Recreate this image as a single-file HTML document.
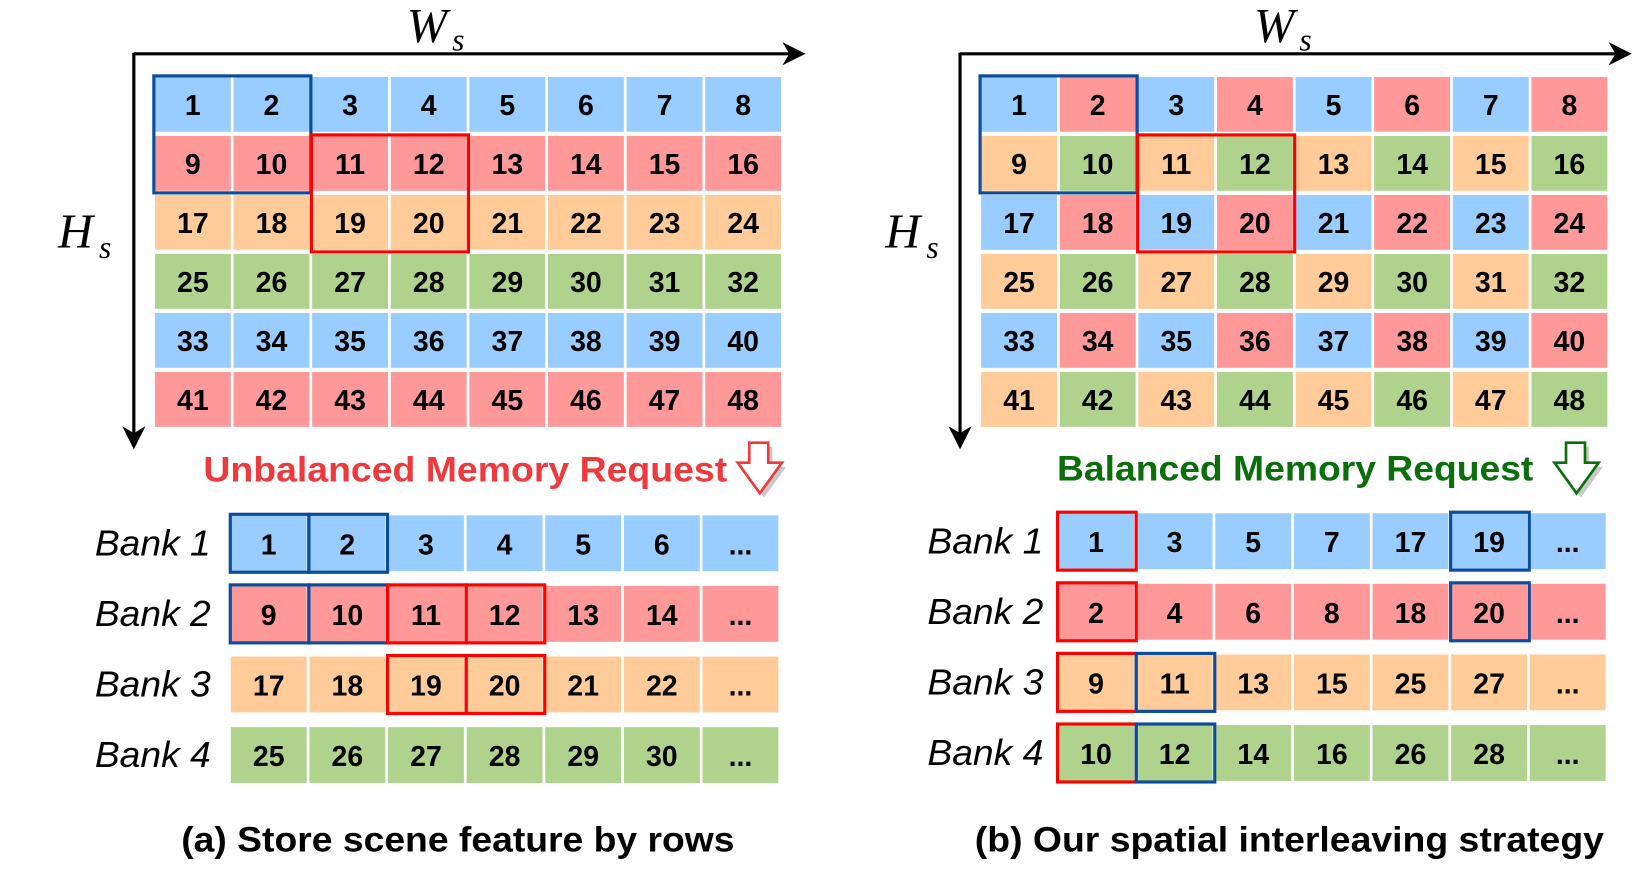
<!DOCTYPE html>
<html><head><meta charset="utf-8"><style>
html,body{margin:0;padding:0;background:#fff;}
svg{display:block}
.b{fill:#99CCFF}.r{fill:#FF9999}.o{fill:#FFCC99}.g{fill:#AFD38C}
.n{font-family:"Liberation Sans",sans-serif;font-weight:bold;font-size:27px;text-anchor:middle;fill:#000}
.bk{font-family:"Liberation Sans",sans-serif;font-style:italic;font-size:34px;fill:#000}
.ax{font-family:"Liberation Serif",serif;font-style:italic;fill:#000}
.cap{font-family:"Liberation Sans",sans-serif;font-weight:bold;font-size:33px;fill:#000}
.bx{fill:none;stroke:#0B4C9C;stroke-width:3}
.rx{fill:none;stroke:#FF0000;stroke-width:3}
</style></head><body>
<svg width="1644" height="874" viewBox="0 0 1560 829.3" xmlns="http://www.w3.org/2000/svg">
<defs>
<marker id="ah2" viewBox="0 0 10 10" markerWidth="22" markerHeight="22" refX="8" refY="5" orient="auto" markerUnits="userSpaceOnUse"><path d="M0,0 L10,5 L0,10 L3,5 z" fill="#000"/></marker></defs>

<!-- LEFT PANEL -->
<text class="ax" x="386" y="40" font-size="46">W</text><text class="ax" x="429" y="48" font-size="30">s</text>
<line x1="127" y1="51" x2="760" y2="51" stroke="#000" stroke-width="3" marker-end="url(#ah2)"/>
<line x1="127" y1="50" x2="127" y2="422" stroke="#000" stroke-width="3" marker-end="url(#ah2)"/>
<text class="ax" x="55" y="235" font-size="46">H</text><text class="ax" x="94" y="245" font-size="30">s</text>

<g>
<rect class="b" x="147" y="73" width="72" height="52"/><rect class="b" x="221.6" y="73" width="72" height="52"/><rect class="b" x="296.2" y="73" width="72" height="52"/><rect class="b" x="370.8" y="73" width="72" height="52"/><rect class="b" x="445.4" y="73" width="72" height="52"/><rect class="b" x="520" y="73" width="72" height="52"/><rect class="b" x="594.6" y="73" width="72" height="52"/><rect class="b" x="669.2" y="73" width="72" height="52"/>
<rect class="r" x="147" y="129" width="72" height="52"/><rect class="r" x="221.6" y="129" width="72" height="52"/><rect class="r" x="296.2" y="129" width="72" height="52"/><rect class="r" x="370.8" y="129" width="72" height="52"/><rect class="r" x="445.4" y="129" width="72" height="52"/><rect class="r" x="520" y="129" width="72" height="52"/><rect class="r" x="594.6" y="129" width="72" height="52"/><rect class="r" x="669.2" y="129" width="72" height="52"/>
<rect class="o" x="147" y="185" width="72" height="52"/><rect class="o" x="221.6" y="185" width="72" height="52"/><rect class="o" x="296.2" y="185" width="72" height="52"/><rect class="o" x="370.8" y="185" width="72" height="52"/><rect class="o" x="445.4" y="185" width="72" height="52"/><rect class="o" x="520" y="185" width="72" height="52"/><rect class="o" x="594.6" y="185" width="72" height="52"/><rect class="o" x="669.2" y="185" width="72" height="52"/>
<rect class="g" x="147" y="241" width="72" height="52"/><rect class="g" x="221.6" y="241" width="72" height="52"/><rect class="g" x="296.2" y="241" width="72" height="52"/><rect class="g" x="370.8" y="241" width="72" height="52"/><rect class="g" x="445.4" y="241" width="72" height="52"/><rect class="g" x="520" y="241" width="72" height="52"/><rect class="g" x="594.6" y="241" width="72" height="52"/><rect class="g" x="669.2" y="241" width="72" height="52"/>
<rect class="b" x="147" y="297" width="72" height="52"/><rect class="b" x="221.6" y="297" width="72" height="52"/><rect class="b" x="296.2" y="297" width="72" height="52"/><rect class="b" x="370.8" y="297" width="72" height="52"/><rect class="b" x="445.4" y="297" width="72" height="52"/><rect class="b" x="520" y="297" width="72" height="52"/><rect class="b" x="594.6" y="297" width="72" height="52"/><rect class="b" x="669.2" y="297" width="72" height="52"/>
<rect class="r" x="147" y="353" width="72" height="52"/><rect class="r" x="221.6" y="353" width="72" height="52"/><rect class="r" x="296.2" y="353" width="72" height="52"/><rect class="r" x="370.8" y="353" width="72" height="52"/><rect class="r" x="445.4" y="353" width="72" height="52"/><rect class="r" x="520" y="353" width="72" height="52"/><rect class="r" x="594.6" y="353" width="72" height="52"/><rect class="r" x="669.2" y="353" width="72" height="52"/>
</g>
<g class="n">
<text x="183" y="109">1</text><text x="257.6" y="109">2</text><text x="332.2" y="109">3</text><text x="406.8" y="109">4</text><text x="481.4" y="109">5</text><text x="556" y="109">6</text><text x="630.6" y="109">7</text><text x="705.2" y="109">8</text>
<text x="183" y="165">9</text><text x="257.6" y="165">10</text><text x="332.2" y="165">11</text><text x="406.8" y="165">12</text><text x="481.4" y="165">13</text><text x="556" y="165">14</text><text x="630.6" y="165">15</text><text x="705.2" y="165">16</text>
<text x="183" y="221">17</text><text x="257.6" y="221">18</text><text x="332.2" y="221">19</text><text x="406.8" y="221">20</text><text x="481.4" y="221">21</text><text x="556" y="221">22</text><text x="630.6" y="221">23</text><text x="705.2" y="221">24</text>
<text x="183" y="277">25</text><text x="257.6" y="277">26</text><text x="332.2" y="277">27</text><text x="406.8" y="277">28</text><text x="481.4" y="277">29</text><text x="556" y="277">30</text><text x="630.6" y="277">31</text><text x="705.2" y="277">32</text>
<text x="183" y="333">33</text><text x="257.6" y="333">34</text><text x="332.2" y="333">35</text><text x="406.8" y="333">36</text><text x="481.4" y="333">37</text><text x="556" y="333">38</text><text x="630.6" y="333">39</text><text x="705.2" y="333">40</text>
<text x="183" y="389">41</text><text x="257.6" y="389">42</text><text x="332.2" y="389">43</text><text x="406.8" y="389">44</text><text x="481.4" y="389">45</text><text x="556" y="389">46</text><text x="630.6" y="389">47</text><text x="705.2" y="389">48</text>
</g>
<rect class="bx" x="146" y="72" width="149" height="111"/>
<rect class="rx" x="295.5" y="128" width="149" height="111"/>

<text x="193" y="457" font-family="Liberation Sans, sans-serif" font-weight="bold" font-size="33" fill="#F0393C" textLength="497" lengthAdjust="spacingAndGlyphs">Unbalanced Memory Request</text>
<polygon points="715,424 733,424 733,443 746,443 725,472 704,443 715,443" fill="#c8c8c8"/>
<polygon points="711,420 729,420 729,439 742,439 721,468 700,439 711,439" fill="#fff" stroke="#F0393C" stroke-width="2.5"/>

<g class="bk"><text x="90" y="527" textLength="110" lengthAdjust="spacingAndGlyphs">Bank 1</text><text x="90" y="594" textLength="110" lengthAdjust="spacingAndGlyphs">Bank 2</text><text x="90" y="661" textLength="110" lengthAdjust="spacingAndGlyphs">Bank 3</text><text x="90" y="728" textLength="110" lengthAdjust="spacingAndGlyphs">Bank 4</text></g>
<g>
<rect class="b" x="219" y="489" width="72" height="53"/><rect class="b" x="293.6" y="489" width="72" height="53"/><rect class="b" x="368.2" y="489" width="72" height="53"/><rect class="b" x="442.8" y="489" width="72" height="53"/><rect class="b" x="517.4" y="489" width="72" height="53"/><rect class="b" x="592" y="489" width="72" height="53"/><rect class="b" x="666.6" y="489" width="72" height="53"/>
<rect class="r" x="219" y="556" width="72" height="53"/><rect class="r" x="293.6" y="556" width="72" height="53"/><rect class="r" x="368.2" y="556" width="72" height="53"/><rect class="r" x="442.8" y="556" width="72" height="53"/><rect class="r" x="517.4" y="556" width="72" height="53"/><rect class="r" x="592" y="556" width="72" height="53"/><rect class="r" x="666.6" y="556" width="72" height="53"/>
<rect class="o" x="219" y="623" width="72" height="53"/><rect class="o" x="293.6" y="623" width="72" height="53"/><rect class="o" x="368.2" y="623" width="72" height="53"/><rect class="o" x="442.8" y="623" width="72" height="53"/><rect class="o" x="517.4" y="623" width="72" height="53"/><rect class="o" x="592" y="623" width="72" height="53"/><rect class="o" x="666.6" y="623" width="72" height="53"/>
<rect class="g" x="219" y="690" width="72" height="53"/><rect class="g" x="293.6" y="690" width="72" height="53"/><rect class="g" x="368.2" y="690" width="72" height="53"/><rect class="g" x="442.8" y="690" width="72" height="53"/><rect class="g" x="517.4" y="690" width="72" height="53"/><rect class="g" x="592" y="690" width="72" height="53"/><rect class="g" x="666.6" y="690" width="72" height="53"/>
</g>
<g class="n">
<text x="255" y="526">1</text><text x="329.6" y="526">2</text><text x="404.2" y="526">3</text><text x="478.8" y="526">4</text><text x="553.4" y="526">5</text><text x="628" y="526">6</text><text x="702.6" y="526">...</text>
<text x="255" y="593">9</text><text x="329.6" y="593">10</text><text x="404.2" y="593">11</text><text x="478.8" y="593">12</text><text x="553.4" y="593">13</text><text x="628" y="593">14</text><text x="702.6" y="593">...</text>
<text x="255" y="660">17</text><text x="329.6" y="660">18</text><text x="404.2" y="660">19</text><text x="478.8" y="660">20</text><text x="553.4" y="660">21</text><text x="628" y="660">22</text><text x="702.6" y="660">...</text>
<text x="255" y="727">25</text><text x="329.6" y="727">26</text><text x="404.2" y="727">27</text><text x="478.8" y="727">28</text><text x="553.4" y="727">29</text><text x="628" y="727">30</text><text x="702.6" y="727">...</text>
</g>
<rect class="bx" x="218.5" y="488" width="74.6" height="55"/><rect class="bx" x="293.1" y="488" width="74.6" height="55"/>
<rect class="bx" x="218.5" y="555" width="74.6" height="55"/><rect class="bx" x="293.1" y="555" width="74.6" height="55"/>
<rect class="rx" x="367.7" y="555" width="74.6" height="55"/><rect class="rx" x="442.3" y="555" width="74.6" height="55"/>
<rect class="rx" x="367.7" y="622" width="74.6" height="55"/><rect class="rx" x="442.3" y="622" width="74.6" height="55"/>

<text class="cap" x="172" y="808" textLength="525" lengthAdjust="spacingAndGlyphs">(a) Store scene feature by rows</text>

<!-- RIGHT PANEL -->
<text class="ax" x="1190" y="40" font-size="46">W</text><text class="ax" x="1233" y="48" font-size="30">s</text>
<line x1="911" y1="51" x2="1544" y2="51" stroke="#000" stroke-width="3" marker-end="url(#ah2)"/>
<line x1="911" y1="50" x2="911" y2="422" stroke="#000" stroke-width="3" marker-end="url(#ah2)"/>
<text class="ax" x="840" y="235" font-size="46">H</text><text class="ax" x="879" y="245" font-size="30">s</text>

<g>
<rect class="b" x="931" y="73" width="72" height="52"/><rect class="r" x="1005.6" y="73" width="72" height="52"/><rect class="b" x="1080.2" y="73" width="72" height="52"/><rect class="r" x="1154.8" y="73" width="72" height="52"/><rect class="b" x="1229.4" y="73" width="72" height="52"/><rect class="r" x="1304" y="73" width="72" height="52"/><rect class="b" x="1378.6" y="73" width="72" height="52"/><rect class="r" x="1453.2" y="73" width="72" height="52"/>
<rect class="o" x="931" y="129" width="72" height="52"/><rect class="g" x="1005.6" y="129" width="72" height="52"/><rect class="o" x="1080.2" y="129" width="72" height="52"/><rect class="g" x="1154.8" y="129" width="72" height="52"/><rect class="o" x="1229.4" y="129" width="72" height="52"/><rect class="g" x="1304" y="129" width="72" height="52"/><rect class="o" x="1378.6" y="129" width="72" height="52"/><rect class="g" x="1453.2" y="129" width="72" height="52"/>
<rect class="b" x="931" y="185" width="72" height="52"/><rect class="r" x="1005.6" y="185" width="72" height="52"/><rect class="b" x="1080.2" y="185" width="72" height="52"/><rect class="r" x="1154.8" y="185" width="72" height="52"/><rect class="b" x="1229.4" y="185" width="72" height="52"/><rect class="r" x="1304" y="185" width="72" height="52"/><rect class="b" x="1378.6" y="185" width="72" height="52"/><rect class="r" x="1453.2" y="185" width="72" height="52"/>
<rect class="o" x="931" y="241" width="72" height="52"/><rect class="g" x="1005.6" y="241" width="72" height="52"/><rect class="o" x="1080.2" y="241" width="72" height="52"/><rect class="g" x="1154.8" y="241" width="72" height="52"/><rect class="o" x="1229.4" y="241" width="72" height="52"/><rect class="g" x="1304" y="241" width="72" height="52"/><rect class="o" x="1378.6" y="241" width="72" height="52"/><rect class="g" x="1453.2" y="241" width="72" height="52"/>
<rect class="b" x="931" y="297" width="72" height="52"/><rect class="r" x="1005.6" y="297" width="72" height="52"/><rect class="b" x="1080.2" y="297" width="72" height="52"/><rect class="r" x="1154.8" y="297" width="72" height="52"/><rect class="b" x="1229.4" y="297" width="72" height="52"/><rect class="r" x="1304" y="297" width="72" height="52"/><rect class="b" x="1378.6" y="297" width="72" height="52"/><rect class="r" x="1453.2" y="297" width="72" height="52"/>
<rect class="o" x="931" y="353" width="72" height="52"/><rect class="g" x="1005.6" y="353" width="72" height="52"/><rect class="o" x="1080.2" y="353" width="72" height="52"/><rect class="g" x="1154.8" y="353" width="72" height="52"/><rect class="o" x="1229.4" y="353" width="72" height="52"/><rect class="g" x="1304" y="353" width="72" height="52"/><rect class="o" x="1378.6" y="353" width="72" height="52"/><rect class="g" x="1453.2" y="353" width="72" height="52"/>
</g>
<g class="n">
<text x="967" y="109">1</text><text x="1041.6" y="109">2</text><text x="1116.2" y="109">3</text><text x="1190.8" y="109">4</text><text x="1265.4" y="109">5</text><text x="1340" y="109">6</text><text x="1414.6" y="109">7</text><text x="1489.2" y="109">8</text>
<text x="967" y="165">9</text><text x="1041.6" y="165">10</text><text x="1116.2" y="165">11</text><text x="1190.8" y="165">12</text><text x="1265.4" y="165">13</text><text x="1340" y="165">14</text><text x="1414.6" y="165">15</text><text x="1489.2" y="165">16</text>
<text x="967" y="221">17</text><text x="1041.6" y="221">18</text><text x="1116.2" y="221">19</text><text x="1190.8" y="221">20</text><text x="1265.4" y="221">21</text><text x="1340" y="221">22</text><text x="1414.6" y="221">23</text><text x="1489.2" y="221">24</text>
<text x="967" y="277">25</text><text x="1041.6" y="277">26</text><text x="1116.2" y="277">27</text><text x="1190.8" y="277">28</text><text x="1265.4" y="277">29</text><text x="1340" y="277">30</text><text x="1414.6" y="277">31</text><text x="1489.2" y="277">32</text>
<text x="967" y="333">33</text><text x="1041.6" y="333">34</text><text x="1116.2" y="333">35</text><text x="1190.8" y="333">36</text><text x="1265.4" y="333">37</text><text x="1340" y="333">38</text><text x="1414.6" y="333">39</text><text x="1489.2" y="333">40</text>
<text x="967" y="389">41</text><text x="1041.6" y="389">42</text><text x="1116.2" y="389">43</text><text x="1190.8" y="389">44</text><text x="1265.4" y="389">45</text><text x="1340" y="389">46</text><text x="1414.6" y="389">47</text><text x="1489.2" y="389">48</text>
</g>
<rect class="bx" x="930" y="72" width="149" height="111"/>
<rect class="rx" x="1079.5" y="128" width="149" height="111"/>

<text x="1003" y="456" font-family="Liberation Sans, sans-serif" font-weight="bold" font-size="33" fill="#0A6E0A" textLength="452" lengthAdjust="spacingAndGlyphs">Balanced Memory Request</text>
<polygon points="1490,424 1508,424 1508,443 1521,443 1500,472 1479,443 1490,443" fill="#c8c8c8"/>
<polygon points="1486,420 1504,420 1504,439 1517,439 1496,468 1475,439 1486,439" fill="#fff" stroke="#0A6E0A" stroke-width="2.5"/>

<g class="bk"><text x="880" y="525" textLength="110" lengthAdjust="spacingAndGlyphs">Bank 1</text><text x="880" y="592" textLength="110" lengthAdjust="spacingAndGlyphs">Bank 2</text><text x="880" y="659" textLength="110" lengthAdjust="spacingAndGlyphs">Bank 3</text><text x="880" y="726" textLength="110" lengthAdjust="spacingAndGlyphs">Bank 4</text></g>
<g>
<rect class="b" x="1004" y="487" width="72" height="53"/><rect class="b" x="1078.6" y="487" width="72" height="53"/><rect class="b" x="1153.2" y="487" width="72" height="53"/><rect class="b" x="1227.8" y="487" width="72" height="53"/><rect class="b" x="1302.4" y="487" width="72" height="53"/><rect class="b" x="1377" y="487" width="72" height="53"/><rect class="b" x="1451.6" y="487" width="72" height="53"/>
<rect class="r" x="1004" y="554" width="72" height="53"/><rect class="r" x="1078.6" y="554" width="72" height="53"/><rect class="r" x="1153.2" y="554" width="72" height="53"/><rect class="r" x="1227.8" y="554" width="72" height="53"/><rect class="r" x="1302.4" y="554" width="72" height="53"/><rect class="r" x="1377" y="554" width="72" height="53"/><rect class="r" x="1451.6" y="554" width="72" height="53"/>
<rect class="o" x="1004" y="621" width="72" height="53"/><rect class="o" x="1078.6" y="621" width="72" height="53"/><rect class="o" x="1153.2" y="621" width="72" height="53"/><rect class="o" x="1227.8" y="621" width="72" height="53"/><rect class="o" x="1302.4" y="621" width="72" height="53"/><rect class="o" x="1377" y="621" width="72" height="53"/><rect class="o" x="1451.6" y="621" width="72" height="53"/>
<rect class="g" x="1004" y="688" width="72" height="53"/><rect class="g" x="1078.6" y="688" width="72" height="53"/><rect class="g" x="1153.2" y="688" width="72" height="53"/><rect class="g" x="1227.8" y="688" width="72" height="53"/><rect class="g" x="1302.4" y="688" width="72" height="53"/><rect class="g" x="1377" y="688" width="72" height="53"/><rect class="g" x="1451.6" y="688" width="72" height="53"/>
</g>
<g class="n">
<text x="1040" y="524">1</text><text x="1114.6" y="524">3</text><text x="1189.2" y="524">5</text><text x="1263.8" y="524">7</text><text x="1338.4" y="524">17</text><text x="1413" y="524">19</text><text x="1487.6" y="524">...</text>
<text x="1040" y="591">2</text><text x="1114.6" y="591">4</text><text x="1189.2" y="591">6</text><text x="1263.8" y="591">8</text><text x="1338.4" y="591">18</text><text x="1413" y="591">20</text><text x="1487.6" y="591">...</text>
<text x="1040" y="658">9</text><text x="1114.6" y="658">11</text><text x="1189.2" y="658">13</text><text x="1263.8" y="658">15</text><text x="1338.4" y="658">25</text><text x="1413" y="658">27</text><text x="1487.6" y="658">...</text>
<text x="1040" y="725">10</text><text x="1114.6" y="725">12</text><text x="1189.2" y="725">14</text><text x="1263.8" y="725">16</text><text x="1338.4" y="725">26</text><text x="1413" y="725">28</text><text x="1487.6" y="725">...</text>
</g>
<rect class="rx" x="1003.5" y="486" width="74.6" height="55"/><rect class="bx" x="1376.5" y="486" width="74.6" height="55"/>
<rect class="rx" x="1003.5" y="553" width="74.6" height="55"/><rect class="bx" x="1376.5" y="553" width="74.6" height="55"/>
<rect class="rx" x="1003.5" y="620" width="74.6" height="55"/><rect class="bx" x="1078.1" y="620" width="74.6" height="55"/>
<rect class="rx" x="1003.5" y="687" width="74.6" height="55"/><rect class="bx" x="1078.1" y="687" width="74.6" height="55"/>

<text class="cap" x="925" y="808" textLength="597" lengthAdjust="spacingAndGlyphs">(b) Our spatial interleaving strategy</text>
</svg>
</body></html>
